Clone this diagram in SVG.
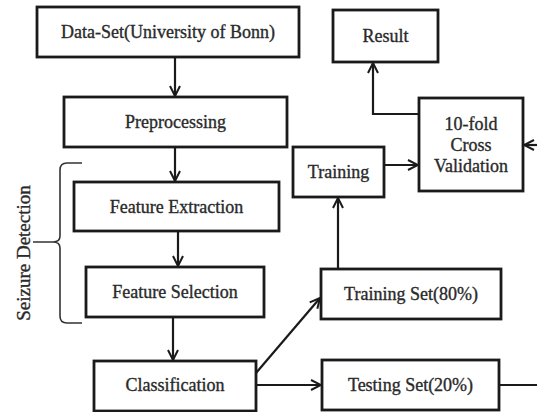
<svg xmlns="http://www.w3.org/2000/svg" width="537" height="412" viewBox="0 0 537 412">
  <style>
    .box { fill: #ffffff; stroke: #1a1a1a; stroke-width: 2.8; }
    .lbl { font-family: "Liberation Serif", "DejaVu Serif", serif; font-size: 18px; fill: #2a2a2a; stroke: #2a2a2a; stroke-width: 0.35; text-anchor: middle; dominant-baseline: central; }
    .side { font-size: 19px; }
    .wire { fill: none; stroke: #1a1a1a; stroke-width: 2.2; }
  </style>
  <defs>
    <marker id="arrow" viewBox="0 0 12 12" refX="11" refY="6" markerWidth="12" markerHeight="12" markerUnits="userSpaceOnUse" orient="auto">
      <path d="M1,1 L11,6 L1,11" fill="none" stroke="#1a1a1a" stroke-width="2"/>
    </marker>
  </defs>
  <rect width="537" height="412" fill="#ffffff"/>

  <g id="connectors">
    <path class="wire" d="M175,57 V96" marker-end="url(#arrow)"/>
    <path class="wire" d="M175,147 V181" marker-end="url(#arrow)"/>
    <path class="wire" d="M178,231 V266" marker-end="url(#arrow)"/>
    <path class="wire" d="M173,317 V360" marker-end="url(#arrow)"/>
    <path class="wire" d="M256,385 H321" marker-end="url(#arrow)"/>
    <path class="wire" d="M256,373 L320,298" marker-end="url(#arrow)"/>
    <path class="wire" d="M338,269 V198" marker-end="url(#arrow)"/>
    <path class="wire" d="M384,165 H418" marker-end="url(#arrow)"/>
    <path class="wire" d="M419,114 H373 V63" marker-end="url(#arrow)"/>
    <path class="wire" d="M499,385 H545"/>
    <path class="wire" d="M545,145 H524" marker-end="url(#arrow)"/>
  </g>

  <g id="dataset">
    <rect class="box" x="37" y="7" width="262" height="50"/>
    <text class="lbl" x="168" y="32">Data-Set(University of Bonn)</text>
  </g>
  <g id="preprocessing">
    <rect class="box" x="64" y="97" width="223" height="50"/>
    <text class="lbl" x="175.5" y="122">Preprocessing</text>
  </g>
  <g id="feature-extraction">
    <rect class="box" x="74" y="182" width="205" height="49"/>
    <text class="lbl" x="176.5" y="206.5">Feature Extraction</text>
  </g>
  <g id="feature-selection">
    <rect class="box" x="86" y="267" width="178" height="50"/>
    <text class="lbl" x="175" y="292">Feature Selection</text>
  </g>
  <g id="classification">
    <rect class="box" x="94" y="361" width="162" height="50"/>
    <text class="lbl" x="175" y="385">Classification</text>
  </g>
  <g id="training-set">
    <rect class="box" x="321" y="269" width="180" height="50"/>
    <text class="lbl" x="411" y="294">Training Set(80%)</text>
  </g>
  <g id="testing-set">
    <rect class="box" x="322" y="360" width="177" height="50"/>
    <text class="lbl" x="410.5" y="385">Testing Set(20%)</text>
  </g>
  <g id="training">
    <rect class="box" x="293" y="147" width="91" height="50"/>
    <text class="lbl" x="338.5" y="172">Training</text>
  </g>
  <g id="cross-validation">
    <rect class="box" x="419" y="98" width="104" height="93"/>
    <text class="lbl" x="471" y="124">10-fold</text>
    <text class="lbl" x="471" y="145">Cross</text>
    <text class="lbl" x="471" y="166">Validation</text>
  </g>
  <g id="result">
    <rect class="box" x="333" y="10" width="105" height="52"/>
    <text class="lbl" x="385.5" y="36">Result</text>
  </g>

  <g id="seizure-detection">
    <path d="M82,163 H67 Q60,163 60,170 V236 Q60,242 53,242 H33 M53,242 Q60,242 60,248 V316 Q60,323 67,323 H82" fill="none" stroke="#333333" stroke-width="1.6"/>
    <text class="lbl side" transform="translate(23,253) rotate(-90)">Seizure Detection</text>
  </g>
</svg>
